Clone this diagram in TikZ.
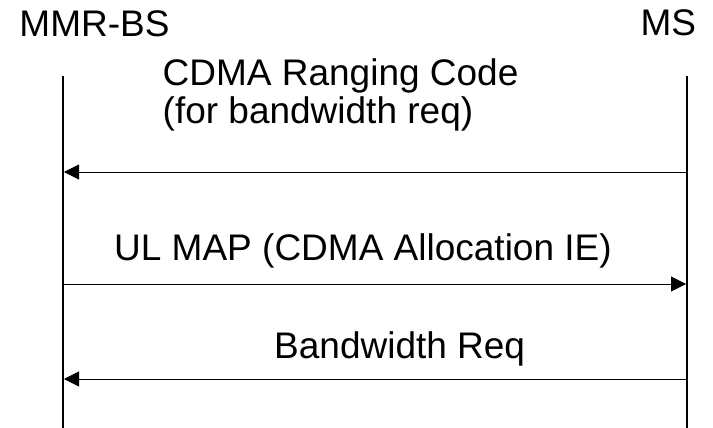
\documentclass[tikz,border=0pt]{standalone}
\usepackage{fontspec}
\setmainfont{Liberation Sans}
\usetikzlibrary{arrows.meta}
\begin{document}
\begin{tikzpicture}[x=1pt,y=-1pt,
  lbl/.style={anchor=base west,inner sep=0pt,font=\fontsize{37}{42}\selectfont},
  life/.style={line width=2pt},
  msg/.style={line width=1pt,-{Triangle[length=15pt,width=15pt]}}]
\useasboundingbox (0,0) rectangle (713,428);
\coordinate (Ltop) at (63,76);
\coordinate (Lbot) at (63,428);
\coordinate (Rtop) at (687,76);
\coordinate (Rbot) at (687,428);
\draw[life] (Ltop) -- (Lbot);
\draw[life] (Rtop) -- (Rbot);
\node[lbl] (bs) at (19.3,37) {MMR-BS};
\node[lbl] (ms) at (640.3,36) {MS};
\node[lbl] (t1) at (162.5,85) {CDMA Ranging Code};
\node[lbl] (t2) at (162.5,124) {(for bandwidth req)};
\node[lbl] (t3) at (114,260) {UL MAP (CDMA Allocation IE)};
\node[lbl] (t4) at (274,358) {Bandwidth Req};
\coordinate (a1r) at (686,172);
\coordinate (a1l) at (64,172);
\coordinate (a2l) at (64,284);
\coordinate (a2r) at (686,284);
\coordinate (a3r) at (686,379);
\coordinate (a3l) at (64,379);
\draw[msg] (a1r) -- (a1l);
\draw[msg] (a2l) -- (a2r);
\draw[msg] (a3r) -- (a3l);
\end{tikzpicture}
\end{document}
